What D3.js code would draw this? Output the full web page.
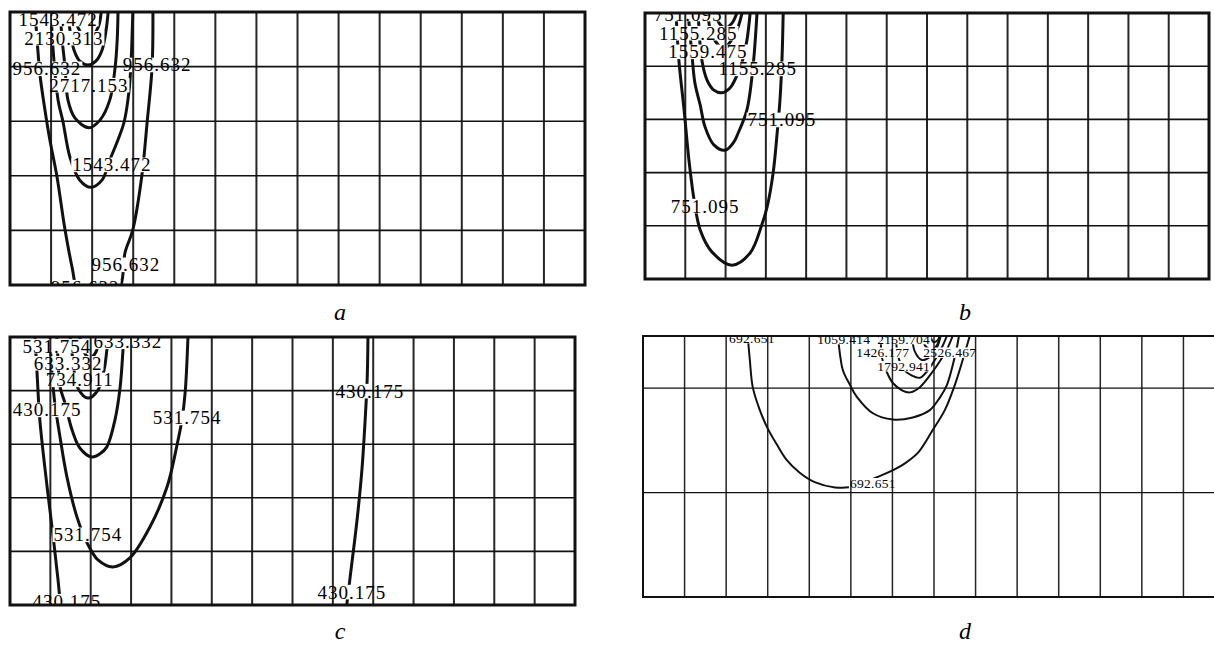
<!DOCTYPE html>
<html>
<head>
<meta charset="utf-8">
<script src="https://cdn.jsdelivr.net/npm/d3@7"></script>
<style>
  body { margin: 0; background: #fff; }
  svg { display: block; }
</style>
</head>
<body>
<svg id="chart" width="1214" height="645"></svg>
<script>
// contour lines, in grid units (x = column, y = row from top)
const contoursA = [
  { level: 956.632, pts: [[0.61,0],[0.66,0.51],[0.73,1.15],[0.85,1.79],[0.97,2.34],[1.14,3.0],[1.34,3.99],[1.51,4.67],[1.7,5.27],[2.12,5.55],[2.58,5.27],[2.73,4.91],[2.8,4.41],[2.99,3.99],[3.21,3.0],[3.34,2.01],[3.46,1.0],[3.48,0]] },
  { level: 1543.472, pts: [[1.0,0],[1.05,0.7],[1.17,1.61],[1.29,2.01],[1.46,2.66],[1.7,3.08],[1.97,3.21],[2.24,3.08],[2.43,2.71],[2.63,2.34],[2.78,2.01],[2.9,1.43],[2.95,0.88],[2.99,0]] },
  { level: 2130.313, pts: [[1.22,0],[1.27,0.51],[1.34,1.01],[1.41,1.61],[1.58,1.94],[1.92,2.12],[2.19,1.98],[2.43,1.61],[2.56,1.01],[2.61,0.51],[2.63,0]] },
  { level: 2717.153, pts: [[1.41,0],[1.46,0.33],[1.56,0.7],[1.7,0.9],[1.9,0.97],[2.09,0.9],[2.24,0.7],[2.34,0.33],[2.39,0]] },
  { level: 3303.993, pts: [[1.58,0],[1.66,0.29],[1.9,0.51],[2.14,0.29],[2.22,0]] },
  { level: 3890.833, pts: [[1.73,0],[1.8,0.15],[1.92,0.22],[2.05,0.15],[2.12,0]] }
];
const labelsA = [
  { level: 1543.472, at: [1.17, 0.13] },
  { level: 2130.313, at: [1.31, 0.48] },
  { level: 956.632, at: [0.9, 1.04] },
  { level: 2717.153, at: [1.92, 1.34] },
  { level: 1543.472, at: [2.48, 2.8] },
  { level: 956.632, at: [3.58, 0.97] },
  { level: 956.632, at: [2.82, 4.63] },
  { level: 956.632, at: [1.83, 5.04] }
];

const contoursB = [
  { level: 751.095, pts: [[0.77,0],[0.84,0.88],[0.97,1.82],[1.09,2.76],[1.22,3.52],[1.37,4.08],[1.66,4.49],[2.16,4.74],[2.61,4.51],[2.9,3.98],[3.03,3.65],[3.18,3.01],[3.28,2.26],[3.35,1.64],[3.4,0.88],[3.43,0]] },
  { level: 1155.285, pts: [[1.07,0],[1.17,0.83],[1.24,1.32],[1.37,1.73],[1.49,2.14],[1.71,2.48],[1.99,2.58],[2.21,2.42],[2.31,2.26],[2.53,1.82],[2.68,1.02],[2.78,0]] },
  { level: 1559.475, pts: [[1.32,0],[1.41,0.88],[1.54,1.26],[1.71,1.45],[1.91,1.5],[2.11,1.41],[2.23,1.26],[2.41,0.92],[2.53,0.51],[2.61,0]] },
  { level: 1963.665, pts: [[1.56,0],[1.66,0.41],[1.94,0.66],[2.23,0.41],[2.41,0]] },
  { level: 2367.855, pts: [[1.76,0],[1.84,0.19],[1.99,0.28],[2.16,0.19],[2.28,0]] }
];
const labelsB = [
  { level: 751.095, at: [1.07, 0.02] },
  { level: 1155.285, at: [1.32, 0.38] },
  { level: 1559.475, at: [1.56, 0.73] },
  { level: 1155.285, at: [2.8, 1.05] },
  { level: 751.095, at: [3.4, 2.01] },
  { level: 751.095, at: [1.49, 3.63] }
];

const contoursC = [
  { level: 430.175, pts: [[0.62,0],[0.67,0.67],[0.74,1.55],[0.92,2.8],[1.07,3.73],[1.19,4.53],[1.26,5.09]] },
  { level: 430.175, pts: [[8.87,0],[8.85,0.8],[8.8,1.55],[8.72,2.48],[8.6,3.41],[8.42,4.53],[8.33,5.09]] },
  { level: 531.754, pts: [[0.99,0],[1.04,0.67],[1.11,1.23],[1.24,1.87],[1.41,2.61],[1.66,3.36],[1.91,3.84],[2.18,4.16],[2.55,4.29],[2.97,4.12],[3.47,3.54],[3.89,2.8],[4.14,2.01],[4.26,1.55],[4.34,1.04],[4.41,0]] },
  { level: 633.332, pts: [[1.16,0],[1.19,0.43],[1.24,0.93],[1.36,1.23],[1.54,1.74],[1.73,2.07],[2.03,2.24],[2.23,2.18],[2.4,2.05],[2.6,1.55],[2.73,0.93],[2.8,0.24],[2.82,0]] },
  { level: 734.911, pts: [[1.49,0],[1.56,0.43],[1.68,0.95],[1.93,1.14],[2.18,0.99],[2.33,0.62],[2.4,0.24],[2.43,0]] },
  { level: 836.49, pts: [[1.73,0],[1.83,0.28],[1.98,0.39],[2.13,0.28],[2.21,0]] }
];
const labelsC = [
  { level: 531.754, at: [1.16, 0.17] },
  { level: 633.332, at: [2.92, 0.09] },
  { level: 633.332, at: [1.44, 0.49] },
  { level: 734.911, at: [1.73, 0.8] },
  { level: 430.175, at: [0.92, 1.36] },
  { level: 531.754, at: [4.39, 1.51] },
  { level: 531.754, at: [1.93, 3.69] },
  { level: 430.175, at: [1.41, 4.93] },
  { level: 430.175, at: [8.92, 1.01] },
  { level: 430.175, at: [8.47, 4.76] }
];

const contoursD = [
  { level: 692.651, pts: [[2.52,0],[2.57,0.23],[2.64,0.49],[2.81,0.71],[2.98,0.87],[3.22,1.04],[3.46,1.19],[3.77,1.31],[4.13,1.4],[4.62,1.45],[5.1,1.44],[5.58,1.36],[5.94,1.3],[6.3,1.22],[6.61,1.12],[6.97,0.9],[7.26,0.71],[7.5,0.47],[7.69,0.23],[7.86,0]] },
  { level: 1059.414, pts: [[4.69,0],[4.74,0.18],[4.81,0.33],[4.98,0.47],[5.14,0.58],[5.53,0.74],[6.01,0.8],[6.49,0.78],[6.9,0.71],[7.14,0.59],[7.31,0.47],[7.45,0.28],[7.55,0.11],[7.6,0]] },
  { level: 1426.177, pts: [[5.72,0],[5.75,0.21],[5.87,0.35],[6.01,0.45],[6.23,0.52],[6.42,0.54],[6.66,0.49],[6.97,0.34],[7.16,0.23],[7.31,0.13],[7.45,0]] },
  { level: 1792.941, pts: [[6.08,0],[6.13,0.18],[6.25,0.31],[6.47,0.38],[6.66,0.4],[6.83,0.34],[7.02,0.23],[7.19,0.11],[7.31,0]] },
  { level: 2159.704, pts: [[6.47,0],[6.54,0.15],[6.71,0.23],[6.9,0.2],[7.07,0.11],[7.16,0]] },
  { level: 2526.467, pts: [[6.71,0],[6.8,0.1],[6.95,0.13],[7.07,0.09],[7.14,0]] },
  { level: 2893.23, pts: [[6.9,0],[7.0,0.06],[7.09,0.04],[7.14,0]] }
];
const labelsD = [
  { level: 692.651, at: [2.62, 0.02] },
  { level: 1059.414, at: [4.83, 0.03] },
  { level: 2159.704, at: [6.27, 0.03] },
  { level: 1426.177, at: [5.77, 0.16] },
  { level: 2526.467, at: [7.38, 0.16] },
  { level: 1792.941, at: [6.27, 0.29] },
  { level: 692.651, at: [5.53, 1.41] }
];

const captions = ["a", "b", "c", "d"];
const columns = 14;
const rowTicks = [1, 2, 3, 4];
const rowTicksD = [0.5, 1.5];

// layout
var panels = [
  { box: { x: 10, y: 12, w: 575, h: 273 }, yMax: 5, hTicks: rowTicks, contours: contoursA, labels: labelsA,
    cap: [340, 320], fs: 19, ls: 1, lw: 3, border: 3, grid: 2 },
  { box: { x: 645, y: 13, w: 564, h: 266 }, yMax: 5, hTicks: rowTicks, contours: contoursB, labels: labelsB,
    cap: [965, 320], fs: 19, ls: 1, lw: 3, border: 3, grid: 2 },
  { box: { x: 10, y: 337, w: 565, h: 268 }, yMax: 5, hTicks: rowTicks, contours: contoursC, labels: labelsC,
    cap: [340, 639], fs: 19, ls: 1, lw: 3, border: 3, grid: 2 },
  { box: { x: 643, y: 336, w: 582, h: 261 }, yMax: 2.5, hTicks: rowTicksD, contours: contoursD, labels: labelsD,
    cap: [965, 639], fs: 13.5, ls: 0.3, lw: 2, border: 2, grid: 1.5 }
];

var svg = d3.select("#chart");
var defs = svg.append("defs");
var fmt = d3.format(".3f");

panels.forEach(function (p, i) {
  var b = p.box;
  var x = d3.scaleLinear().domain([0, columns]).range([b.x, b.x + b.w]);
  var y = d3.scaleLinear().domain([0, p.yMax]).range([b.y, b.y + b.h]);

  defs.append("clipPath").attr("id", "clip" + i)
    .append("rect").attr("x", b.x).attr("y", b.y).attr("width", b.w).attr("height", b.h);

  var g = svg.append("g").attr("clip-path", "url(#clip" + i + ")");

  // grid
  g.selectAll(".vgrid").data(d3.range(1, columns)).enter().append("line")
    .attr("x1", (d) => x(d)).attr("x2", (d) => x(d))
    .attr("y1", b.y).attr("y2", b.y + b.h)
    .attr("stroke", "#262626").attr("stroke-width", p.grid);
  g.selectAll(".hgrid").data(p.hTicks).enter().append("line")
    .attr("x1", b.x).attr("x2", b.x + b.w)
    .attr("y1", (d) => y(d)).attr("y2", (d) => y(d))
    .attr("stroke", "#111").attr("stroke-width", p.grid * 0.8);

  // contours, broken where the labels sit
  var line = d3.line()
    .x((d) => x(d[0]))
    .y((d) => y(d[1]))
    .curve(d3.curveCatmullRom.alpha(0.5));
  var cg = g.append("g").attr("mask", "url(#mask" + i + ")");
  cg.selectAll("path").data(p.contours).enter().append("path")
    .attr("d", (d) => line(d.pts))
    .attr("fill", "none")
    .attr("stroke", "#111")
    .attr("stroke-width", p.lw)
    .attr("stroke-linecap", "round");

  var texts = g.append("g").selectAll("text").data(p.labels).enter().append("text")
    .attr("x", (d) => x(d.at[0]))
    .attr("y", (d) => y(d.at[1]))
    .attr("text-anchor", "middle")
    .attr("dominant-baseline", "central")
    .attr("font-family", "'Liberation Serif', 'Times New Roman', serif")
    .attr("font-size", p.fs)
    .attr("letter-spacing", p.ls)
    .attr("fill", "#000")
    .text((d) => fmt(d.level));

  var mask = defs.append("mask").attr("id", "mask" + i)
    .attr("maskUnits", "userSpaceOnUse")
    .attr("x", 0).attr("y", 0).attr("width", 1300).attr("height", 700);
  mask.append("rect").attr("width", 1300).attr("height", 700).attr("fill", "white");
  texts.each(function () {
    var bb = this.getBBox();
    var pad = p.fs * 0.17;
    mask.append("rect")
      .attr("x", bb.x - 1).attr("y", bb.y + pad)
      .attr("width", bb.width + 2).attr("height", bb.height - pad * 2)
      .attr("fill", "black");
  });

  // frame
  svg.append("rect")
    .attr("x", b.x).attr("y", b.y).attr("width", b.w).attr("height", b.h)
    .attr("fill", "none").attr("stroke", "#111").attr("stroke-width", p.border);

  svg.append("text")
    .attr("x", p.cap[0]).attr("y", p.cap[1])
    .attr("text-anchor", "middle")
    .attr("font-family", "'Liberation Serif', 'Times New Roman', serif")
    .attr("font-style", "italic")
    .attr("font-size", 24)
    .text(captions[i]);
});
</script>
</body>
</html>
